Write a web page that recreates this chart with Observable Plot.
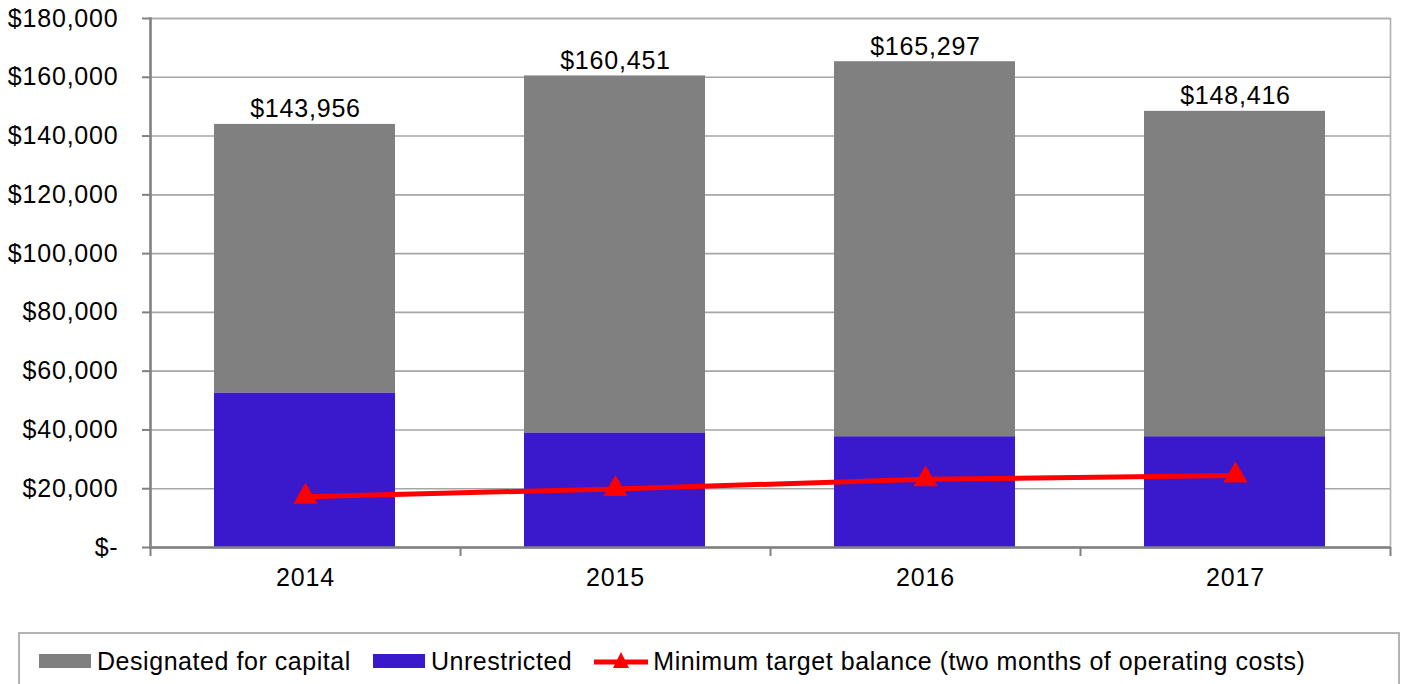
<!DOCTYPE html>
<html><head><meta charset="utf-8">
<script src="https://cdn.jsdelivr.net/npm/d3@7"></script>
<script src="https://cdn.jsdelivr.net/npm/@observablehq/plot@0.6"></script>
<style>
body{margin:0;background:#fff;font-family:"Liberation Sans",Arial,sans-serif;overflow:hidden;}
#chart{position:absolute;left:0;top:0;}
#legend{position:absolute;left:18px;top:632px;width:1382px;height:70px;border:2px solid #b3b3b3;box-sizing:border-box;
  display:flex;align-items:center;padding-left:19px;padding-bottom:12px;font-size:25px;letter-spacing:0.55px;color:#000;}
.sw{display:inline-block;width:52px;height:14px;margin-right:6px;}
.item{display:flex;align-items:center;margin-right:22px;}
</style></head>
<body>
<div id="chart"></div>
<div id="legend"></div>
<script>
const years = ["2014", "2015", "2016", "2017"];
const totals = [143956, 160451, 165297, 148416];
const unrestricted = [52600, 39000, 37700, 37700];
const minimumTarget = [17300, 19900, 23200, 24500];
const yTicks = [0, 20000, 40000, 60000, 80000, 100000, 120000, 140000, 160000, 180000];
const seriesNames = ["Designated for capital", "Unrestricted", "Minimum target balance (two months of operating costs)"];
const colors = {gray: "#808080", blue: "#3a19cc", red: "#ff0000"};

const barRows = [];
years.forEach((y, i) => {
  barRows.push({year: y, series: seriesNames[1], value: unrestricted[i]});
  barRows.push({year: y, series: seriesNames[0], value: totals[i] - unrestricted[i]});
});
const totalRows = years.map((y, i) => ({year: y, total: totals[i]}));
const lineRows = years.map((y, i) => ({year: y, value: minimumTarget[i]}));
const fmt = d => d === 0 ? "$-" : "$" + d3.format(",")(d);

const W = 1403, H = 632, mL = 150, mR = 13, mT = 18, mB = H - 547;
const step = (W - mL - mR) / years.length;

const chart = Plot.plot({
  width: W, height: H,
  marginLeft: mL, marginRight: mR, marginTop: mT, marginBottom: mB,
  style: {fontFamily: "'Liberation Sans', Arial, sans-serif", fontSize: "25px", letterSpacing: "0.8px", color: "#000", background: "#fff"},
  x: {domain: years, padding: 0, label: null},
  y: {domain: [0, 180000], label: null},
  color: {domain: seriesNames.slice(0, 2), range: [colors.gray, colors.blue]},
  marks: [
    Plot.gridY(yTicks, {stroke: "#a6a6a6", strokeOpacity: 1, strokeWidth: 1.6}),
    Plot.frame({stroke: "#b0b0b0", strokeWidth: 1.6}),
    Plot.barY(barRows, Plot.stackY({x: "year", y: "value", fill: "series", order: seriesNames.slice(0,2).reverse(), insetLeft: 64, insetRight: 65})),
    Plot.text(totalRows, {x: "year", y: "total", text: d => fmt(d.total), lineAnchor: "bottom", dy: -7, fontSize: 25, fill: "#000"}),
    Plot.line(lineRows, {x: "year", y: "value", stroke: colors.red, strokeWidth: 5}),
    Plot.dot(lineRows, {x: "year", y: "value", symbol: "triangle", r: 9, fill: colors.red, stroke: null}),
    Plot.ruleY([0], {stroke: "#808080", strokeWidth: 2.5}),
    Plot.frame({anchor: "left", stroke: "#808080", strokeWidth: 2.5}),
    Plot.ruleX(years, {x: d => d, y1: 0, y2: 0, insetBottom: -9, dx: -step / 2, stroke: "#808080", strokeWidth: 2}),
    Plot.ruleX([years[years.length - 1]], {x: d => d, y1: 0, y2: 0, insetBottom: -9, dx: step / 2, stroke: "#808080", strokeWidth: 2}),
    Plot.axisY(yTicks, {tickFormat: fmt, tickSize: 8, tickPadding: 24, stroke: "#808080", strokeWidth: 2, fontSize: 25, fill: "#000"}),
    Plot.axisX({tickSize: 0, tickPadding: 21, fontSize: 25, fill: "#000", label: null})
  ]
});
document.getElementById("chart").appendChild(chart);

const legend = document.getElementById("legend");
legend.innerHTML = `
 <div class="item"><span class="sw" style="background:${colors.gray}"></span>${seriesNames[0]}</div>
 <div class="item"><span class="sw" style="background:${colors.blue}"></span>${seriesNames[1]}</div>
 <div class="item"><svg width="54" height="22" style="margin-right:5px"><line x1="0" x2="54" y1="12" y2="12" stroke="${colors.red}" stroke-width="5"/><path d="M27,2 L35,18 L19,18 Z" fill="${colors.red}"/></svg>${seriesNames[2]}</div>`;
</script>
</body></html>
